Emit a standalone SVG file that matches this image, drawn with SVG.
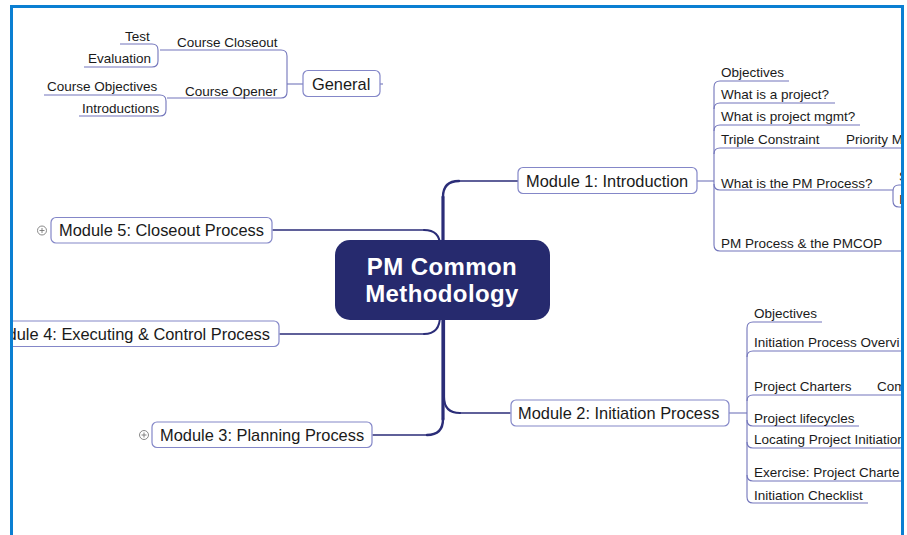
<svg xmlns="http://www.w3.org/2000/svg" width="907" height="535" viewBox="0 0 907 535">
<defs>
<clipPath id="frameclip"><rect x="13" y="8" width="888" height="527"/></clipPath>
<style>
text{font-family:"Liberation Sans",Arial,sans-serif;fill:#1a1a1a}
.mod{font-size:16.4px}
.ch{font-size:13.5px}
.box{fill:#fff;stroke:#8487c8;stroke-width:1.2}
.main{fill:none;stroke:#2b2d78;stroke-linecap:round}
.sub{fill:none;stroke:#7275bb;stroke-width:1.1}
.plus{fill:#fff;stroke:#888;stroke-width:1}
.center{fill:#262a6e}
.ctext{font-size:24px;font-weight:bold;fill:#fff;letter-spacing:0.4px}
</style>
</defs>
<rect width="907" height="535" fill="#fff"/>
<g clip-path="url(#frameclip)">
<g id="connectors">
<path class="main" stroke-width="3.2" d="M443 197 L443 419"/>
<path class="main" stroke-width="2.4" d="M443 197 Q443 181 459 181"/>
<path class="main" stroke-width="1.5" d="M459 181 L518 181"/>
<path class="main" stroke-width="2.2" d="M444 320 L444 397 Q444 413 460 413"/>
<path class="main" stroke-width="1.5" d="M460 413 L510 413"/>
<path class="main" stroke-width="2.4" d="M443 419 Q443 435 427 435"/>
<path class="main" stroke-width="1.5" d="M427 435 L373 435"/>
<path class="main" stroke-width="1.5" d="M273 230 L424 230"/>
<path class="main" stroke-width="2" d="M424 230 Q440 230 440 246"/>
<path class="main" stroke-width="2" d="M440 316 Q440 334 424 334"/>
<path class="main" stroke-width="1.5" d="M424 334 L280 334"/>
<path class="sub" d="M303 84 L287 84"/>
<path class="sub" d="M380 84 L383 84"/>
<path class="sub" d="M160 50 L281 50 Q287 50 287 56 L287 92 Q287 98 281 98 L167 98"/>
<path class="sub" d="M120 44 L152 44 Q158 44 158 50 L158 61 Q158 67 152 67 L84 67"/>
<path class="sub" d="M44 95 L160 95 Q166 95 166 101 L166 110 Q166 116 160 116 L79 116"/>
<path class="sub" d="M697 181 L714 181"/>
<path class="sub" d="M789 81 L720 81 Q714 81 714 87 L714 245 Q714 251 720 251 L910 251"/>
<path class="sub" d="M714 109 Q714 103 720 103 L835 103"/>
<path class="sub" d="M714 131 Q714 125 720 125 L860 125"/>
<path class="sub" d="M714 154 Q714 148 720 148 L910 148"/>
<path class="sub" d="M714 184 Q714 190 720 190 L893 190"/>
<path class="sub" d="M910 185 L899 185 Q893 185 893 191 L893 201 Q893 207 899 207 L910 207"/>
<path class="sub" d="M729 413 L747 413"/>
<path class="sub" d="M822 322 L753 322 Q747 322 747 328 L747 497 Q747 503 753 503 L868 503"/>
<path class="sub" d="M747 357 Q747 351 753 351 L910 351"/>
<path class="sub" d="M747 401 Q747 395 753 395 L910 395"/>
<path class="sub" d="M747 420 Q747 426 753 426 L859 426"/>
<path class="sub" d="M747 442 Q747 448 753 448 L910 448"/>
<path class="sub" d="M747 475 Q747 481 753 481 L910 481"/>
</g>
<g id="center">
<rect class="center" x="335" y="240" width="215" height="80" rx="15"/>
<text class="ctext" x="442" y="275" text-anchor="middle">PM Common</text>
<text class="ctext" x="442" y="302" text-anchor="middle">Methodology</text>
</g>
<g id="general">
<rect class="box" x="303" y="70.5" width="77" height="26" rx="5"/>
<text class="mod" x="312" y="90">General</text>
</g>
<g id="course-closeout"><text class="ch" x="177" y="47">Course Closeout</text></g>
<g id="test"><text class="ch" x="125" y="41">Test</text></g>
<g id="evaluation"><text class="ch" x="88" y="63">Evaluation</text></g>
<g id="course-opener"><text class="ch" x="185" y="96">Course Opener</text></g>
<g id="course-objectives"><text class="ch" x="47" y="91">Course Objectives</text></g>
<g id="introductions"><text class="ch" x="82" y="113">Introductions</text></g>
<g id="module1">
<rect class="box" x="518" y="167.5" width="179" height="26" rx="5"/>
<text class="mod" x="526" y="187">Module 1: Introduction</text>
</g>
<g id="module5">
<circle class="plus" cx="42" cy="230.5" r="4.5"/>
<path d="M39.5 230.5 H44.5 M42 228 V233" stroke="#777" stroke-width="0.9"/>
<rect class="box" x="51" y="217.5" width="221" height="25.5" rx="5"/>
<text class="mod" x="59" y="236">Module 5: Closeout Process</text>
</g>
<g id="module4">
<rect class="box" x="-30" y="321" width="309" height="25.5" rx="5"/>
<text class="mod" x="270" y="340" text-anchor="end">Module 4: Executing &amp; Control Process</text>
</g>
<g id="module3">
<circle class="plus" cx="144" cy="435" r="4.5"/>
<path d="M141.5 435 H146.5 M144 432.5 V437.5" stroke="#777" stroke-width="0.9"/>
<rect class="box" x="152" y="422" width="220" height="25.5" rx="5"/>
<text class="mod" x="160" y="441">Module 3: Planning Process</text>
</g>
<g id="module2">
<rect class="box" x="511" y="400" width="218" height="26" rx="5"/>
<text class="mod" x="518" y="419">Module 2: Initiation Process</text>
</g>
<g id="m1-objectives"><text class="ch" x="721" y="77">Objectives</text></g>
<g id="m1-project"><text class="ch" x="721" y="99">What is a project?</text></g>
<g id="m1-mgmt"><text class="ch" x="721" y="121">What is project mgmt?</text></g>
<g id="m1-triple"><text class="ch" x="721" y="144">Triple Constraint</text></g>
<g id="m1-priority"><text class="ch" x="846" y="144">Priority M</text></g>
<g id="m1-process"><text class="ch" x="721" y="188">What is the PM Process?</text></g>
<g id="m1-s"><text class="ch" x="899" y="181">S</text></g>
<g id="m1-i"><text class="ch" x="899" y="204">I</text></g>
<g id="m1-pmcop"><text class="ch" x="721" y="248">PM Process &amp; the PMCOP</text></g>
<g id="m2-objectives"><text class="ch" x="754" y="318">Objectives</text></g>
<g id="m2-overview"><text class="ch" x="754" y="347">Initiation Process Overvi</text></g>
<g id="m2-charters"><text class="ch" x="754" y="391">Project Charters</text></g>
<g id="m2-com"><text class="ch" x="877" y="391">Com</text></g>
<g id="m2-lifecycles"><text class="ch" x="754" y="423">Project lifecycles</text></g>
<g id="m2-locating"><text class="ch" x="754" y="444">Locating Project Initiation</text></g>
<g id="m2-exercise"><text class="ch" x="754" y="477">Exercise: Project Charte</text></g>
<g id="m2-checklist"><text class="ch" x="754" y="500">Initiation Checklist</text></g>
</g>
<path d="M11.5 540 L11.5 6.5 L902.5 6.5 L902.5 540" fill="none" stroke="#0b7fd2" stroke-width="3"/>
</svg>
